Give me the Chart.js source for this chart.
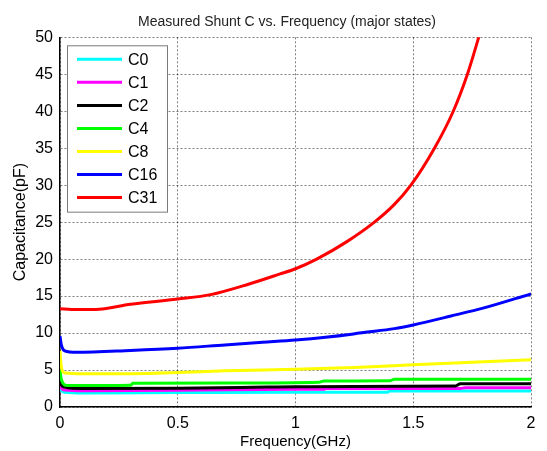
<!DOCTYPE html>
<html>
<head>
<meta charset="utf-8">
<script src="https://cdn.jsdelivr.net/npm/chart.js@4"></script>
<style>
  html, body { margin: 0; padding: 0; background: #fff; }
  #wrap { width: 547px; height: 451px; }
</style>
</head>
<body>
<div id="wrap"><canvas id="grafico"></canvas></div>
<script>
// tick labels
var xTicks = [0, 0.5, 1, 1.5, 2];
var yTicks = [0, 5, 10, 15, 20, 25, 30, 35, 40, 45, 50];

var titulo = 'Measured Shunt C vs. Frequency (major states)';

// series names and colours
var nombres = ['C0', 'C1', 'C2', 'C4', 'C8', 'C16', 'C31'];
var colores = ['#00ffff', '#ff00ff', '#000000', '#00ff00', '#ffff00', '#0000ff', '#ff0000'];

// frequency (GHz) and capacitance (pF)
var c0Freq = [0, 0.005, 0.02, 0.1, 0.5, 1.0, 1.39, 1.40, 2.0];
var c0Cap  = [2.8, 2.3, 2.0, 1.9, 1.95, 2.0, 2.0, 2.15, 2.15];

var c1Freq = [0, 0.005, 0.02, 0.1, 0.5, 1.0, 1.12, 1.13, 1.70, 1.72, 2.0];
var c1Cap  = [3.2, 2.6, 2.3, 2.2, 2.25, 2.4, 2.4, 2.5, 2.5, 2.6, 2.6];

var c2Freq = [0, 0.005, 0.02, 0.1, 0.5, 0.88, 1.0, 1.68, 1.70, 2.0];
var c2Cap  = [3.5, 3.0, 2.7, 2.5, 2.55, 2.7, 2.75, 2.85, 3.15, 3.15];

var c4Freq = [0, 0.005, 0.03, 0.30, 0.31, 0.75, 1.10, 1.12, 1.40, 1.42, 2.0];
var c4Cap  = [5.0, 3.8, 2.9, 2.95, 3.2, 3.25, 3.35, 3.5, 3.55, 3.75, 3.75];

var c8Freq = [0, 0.005, 0.02, 0.1, 0.3, 0.5, 0.7, 1.0, 1.25, 1.5, 1.75, 2.0];
var c8Cap  = [7.6, 5.5, 4.6, 4.5, 4.5, 4.65, 4.9, 5.1, 5.35, 5.7, 6.05, 6.4];

var c16Freq = [0, 0.005, 0.02, 0.07, 0.3, 0.5, 0.7, 0.86, 1.0, 1.23, 1.27, 1.42, 1.5, 1.66, 1.8, 2.0];
var c16Cap  = [9.6, 8.5, 7.6, 7.4, 7.65, 7.95, 8.4, 8.75, 9.05, 9.8, 10.0, 10.6, 11.1, 12.3, 13.4, 15.3];

var c31Freq = [0, 0.05, 0.15, 0.3, 0.5, 0.64, 0.8, 0.935, 1.0, 1.09, 1.22, 1.335, 1.42, 1.49, 1.59, 1.67, 1.73, 1.778, 1.8];
var c31Cap  = [13.3, 13.2, 13.2, 13.9, 14.6, 15.2, 16.6, 18.0, 18.7, 20.0, 22.4, 25.0, 27.4, 30.0, 35.0, 40.0, 45.0, 50.0, 52.5];

var frecuencias = [c0Freq, c1Freq, c2Freq, c4Freq, c8Freq, c16Freq, c31Freq];
var capacidades = [c0Cap, c1Cap, c2Cap, c4Cap, c8Cap, c16Cap, c31Cap];

var fuente = 'Liberation Sans, Arial, Helvetica, sans-serif';

var datasets = nombres.map(function (nombre, i) {
  return {
    label: nombre,
    data: frecuencias[i].map(function (f, j) { return { x: f, y: capacidades[i][j] }; }),
    borderColor: colores[i],
    backgroundColor: colores[i],
    borderWidth: 3,
    pointRadius: 0,
    cubicInterpolationMode: 'monotone',
    fill: false,
    order: nombres.length - i // later series drawn on top, like matlab
  };
});

// title a bit left of the plot centre, and legend box inside the plot
var leyendaInterna = {
  id: 'leyendaInterna',
  afterDraw: function (chart) {
    var ctx = chart.ctx;
    var area = chart.chartArea;
    ctx.save();
    ctx.font = '14px ' + fuente;
    ctx.fillStyle = '#222';
    ctx.textAlign = 'center';
    ctx.textBaseline = 'middle';
    ctx.fillText(titulo, 287, 22);

    var x0 = area.left + 7, y0 = area.top + 8;
    var ancho = 100, fila = 23.05;
    var alto = 14 + fila * chart.data.datasets.length - 9;
    ctx.fillStyle = '#fff';
    ctx.fillRect(x0, y0, ancho, alto);
    ctx.strokeStyle = '#7a7a7a';
    ctx.lineWidth = 1;
    ctx.strokeRect(x0 + 0.5, y0 + 0.5, ancho, alto);
    ctx.font = '16px ' + fuente;
    ctx.textAlign = 'left';
    chart.data.datasets.forEach(function (ds, i) {
      var y = y0 + 14 + i * fila;
      ctx.strokeStyle = ds.borderColor;
      ctx.lineWidth = 3;
      ctx.beginPath();
      ctx.moveTo(x0 + 10, y);
      ctx.lineTo(x0 + 55, y);
      ctx.stroke();
      ctx.fillStyle = '#000';
      ctx.fillText(ds.label, x0 + 61, y + 1);
    });
    ctx.restore();
  }
};

new Chart(document.getElementById('grafico'), {
  type: 'line',
  data: { datasets: datasets },
  options: {
    responsive: true,
    maintainAspectRatio: false,
    animation: false,
    layout: { padding: { left: 0, right: 16, top: 37.3, bottom: 0 } },
    plugins: {
      legend: { display: false },
      tooltip: { enabled: false },
      title: { display: false }
    },
    scales: {
      x: {
        type: 'linear',
        min: 0,
        max: 2,
        afterFit: function (scale) { scale.height = 44; },
        afterBuildTicks: function (scale) {
          scale.ticks = xTicks.map(function (v) { return { value: v }; });
        },
        ticks: {
          color: '#000',
          font: { family: fuente, size: 16 },
          padding: 7,
          maxRotation: 0,
          callback: function (v) { return String(v); }
        },
        grid: { color: 'rgba(0,0,0,0.5)', lineWidth: 1, drawTicks: false },
        border: { display: true, color: '#000', width: 1.5, dash: [2, 2] },
        title: {
          display: true,
          text: 'Frequency(GHz)',
          color: '#000',
          font: { family: fuente, size: 15 },
          padding: { top: 0, bottom: 0 }
        }
      },
      y: {
        type: 'linear',
        min: 0,
        max: 50,
        afterFit: function (scale) { scale.width = 60; },
        afterBuildTicks: function (scale) {
          scale.ticks = yTicks.map(function (v) { return { value: v }; });
        },
        ticks: {
          color: '#000',
          font: { family: fuente, size: 16 },
          padding: 7,
          callback: function (v) { return String(v); }
        },
        grid: { color: 'rgba(0,0,0,0.5)', lineWidth: 1, drawTicks: false },
        border: { display: true, color: '#000', width: 1.5, dash: [2, 2] },
        title: {
          display: true,
          text: 'Capacitance(pF)',
          color: '#000',
          font: { family: fuente, size: 16 },
          padding: { top: 11, bottom: 0 }
        }
      }
    }
  },
  plugins: [leyendaInterna]
});
</script>
</body>
</html>
